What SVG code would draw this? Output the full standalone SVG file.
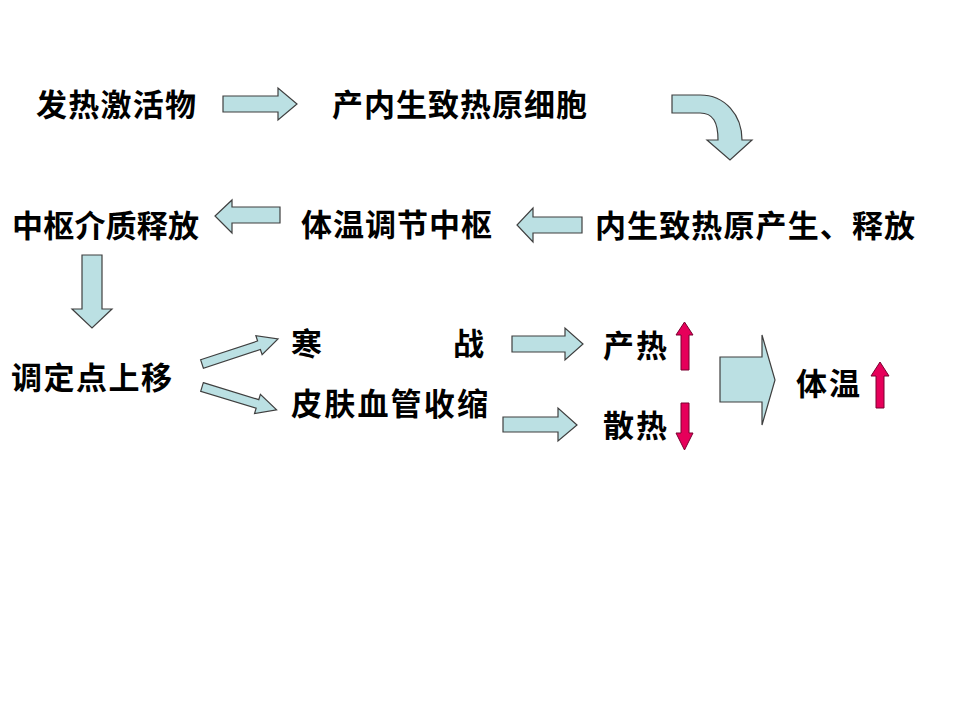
<svg xmlns="http://www.w3.org/2000/svg" width="960" height="720" viewBox="0 0 960 720">
<style>
.t{font-family:"Noto Sans CJK SC","Liberation Sans",sans-serif;font-size:31px;font-weight:bold;fill:#000}
.b{fill:#BBE0E3;stroke:#3F3F3F;stroke-width:1.2;stroke-linejoin:miter}
.r{fill:#E6005A;stroke:#7A0030;stroke-width:1}
</style>
<rect width="960" height="720" fill="#fff"/>
<g id="n1"><text class="t" x="36" y="116" textLength="160" lengthAdjust="spacing">发热激活物</text></g>
<g id="n2"><text class="t" x="332" y="116" textLength="255" lengthAdjust="spacing">产内生致热原细胞</text></g>
<g id="n3"><text class="t" x="595" y="237" textLength="320" lengthAdjust="spacing">内生致热原产生、释放</text></g>
<g id="n4"><text class="t" x="301" y="236" textLength="191" lengthAdjust="spacing">体温调节中枢</text></g>
<g id="n5"><text class="t" x="12" y="237" textLength="187" lengthAdjust="spacing">中枢介质释放</text></g>
<g id="n6"><text class="t" x="11" y="389" textLength="161" lengthAdjust="spacing">调定点上移</text></g>
<g id="n7"><text class="t" x="291" y="355" textLength="193" lengthAdjust="spacing">寒　　　　战</text></g>
<g id="n8"><text class="t" x="291" y="415" textLength="197" lengthAdjust="spacing">皮肤血管收缩</text></g>
<g id="n9"><text class="t" x="603" y="357" textLength="64" lengthAdjust="spacing">产热</text>
<polygon class="r" points="681,370 681,335 676,335 684.5,322 693,335 689,335 689,370"/></g>
<g id="n10"><text class="t" x="603" y="437" textLength="64" lengthAdjust="spacing">散热</text>
<polygon class="r" points="681,403 689,403 689,433 693,433 684.5,450 676,433 681,433"/></g>
<g id="n11"><text class="t" x="796" y="395" textLength="64" lengthAdjust="spacing">体温</text>
<polygon class="r" points="876,408 876,376 871,376 880,362 889,376 884,376 884,408"/></g>
<g id="connectors">
<polygon class="b" points="223,96 278,96 278,88 297,104 278,120 278,112 223,112"/>
<path class="b" d="M672,95 L700,95 C725,95 742,115 742,140 L752,140 L730,160 L707,140 L718,140 C718,122 713,113 700,113 L672,113 Z"/>
<polygon class="b" points="582,217 533,217 533,208 517,225 533,242 533,233 582,233"/>
<polygon class="b" points="280,207 232,207 232,200 215,216 232,233 232,223 280,223"/>
<polygon class="b" points="82,255 102,255 102,309 112,309 92,328 72,309 82,309"/>
<polygon class="b" transform="translate(202,364) rotate(-18.2)" points="0,-4.5 60,-4.5 60,-10 80,0 60,10 60,4.5 0,4.5"/>
<polygon class="b" transform="translate(202,387) rotate(17)" points="0,-4.5 58,-4.5 58,-10 78,0 58,10 58,4.5 0,4.5"/>
<polygon class="b" points="512,336 565,336 565,328 583,344 565,360 565,352 512,352"/>
<polygon class="b" points="503,417 558,417 558,408 577,425 558,441 558,432 503,432"/>
<polygon class="b" points="720,357 762,357 762,335 775,380 762,425 762,402 720,402"/>
</g>
</svg>
